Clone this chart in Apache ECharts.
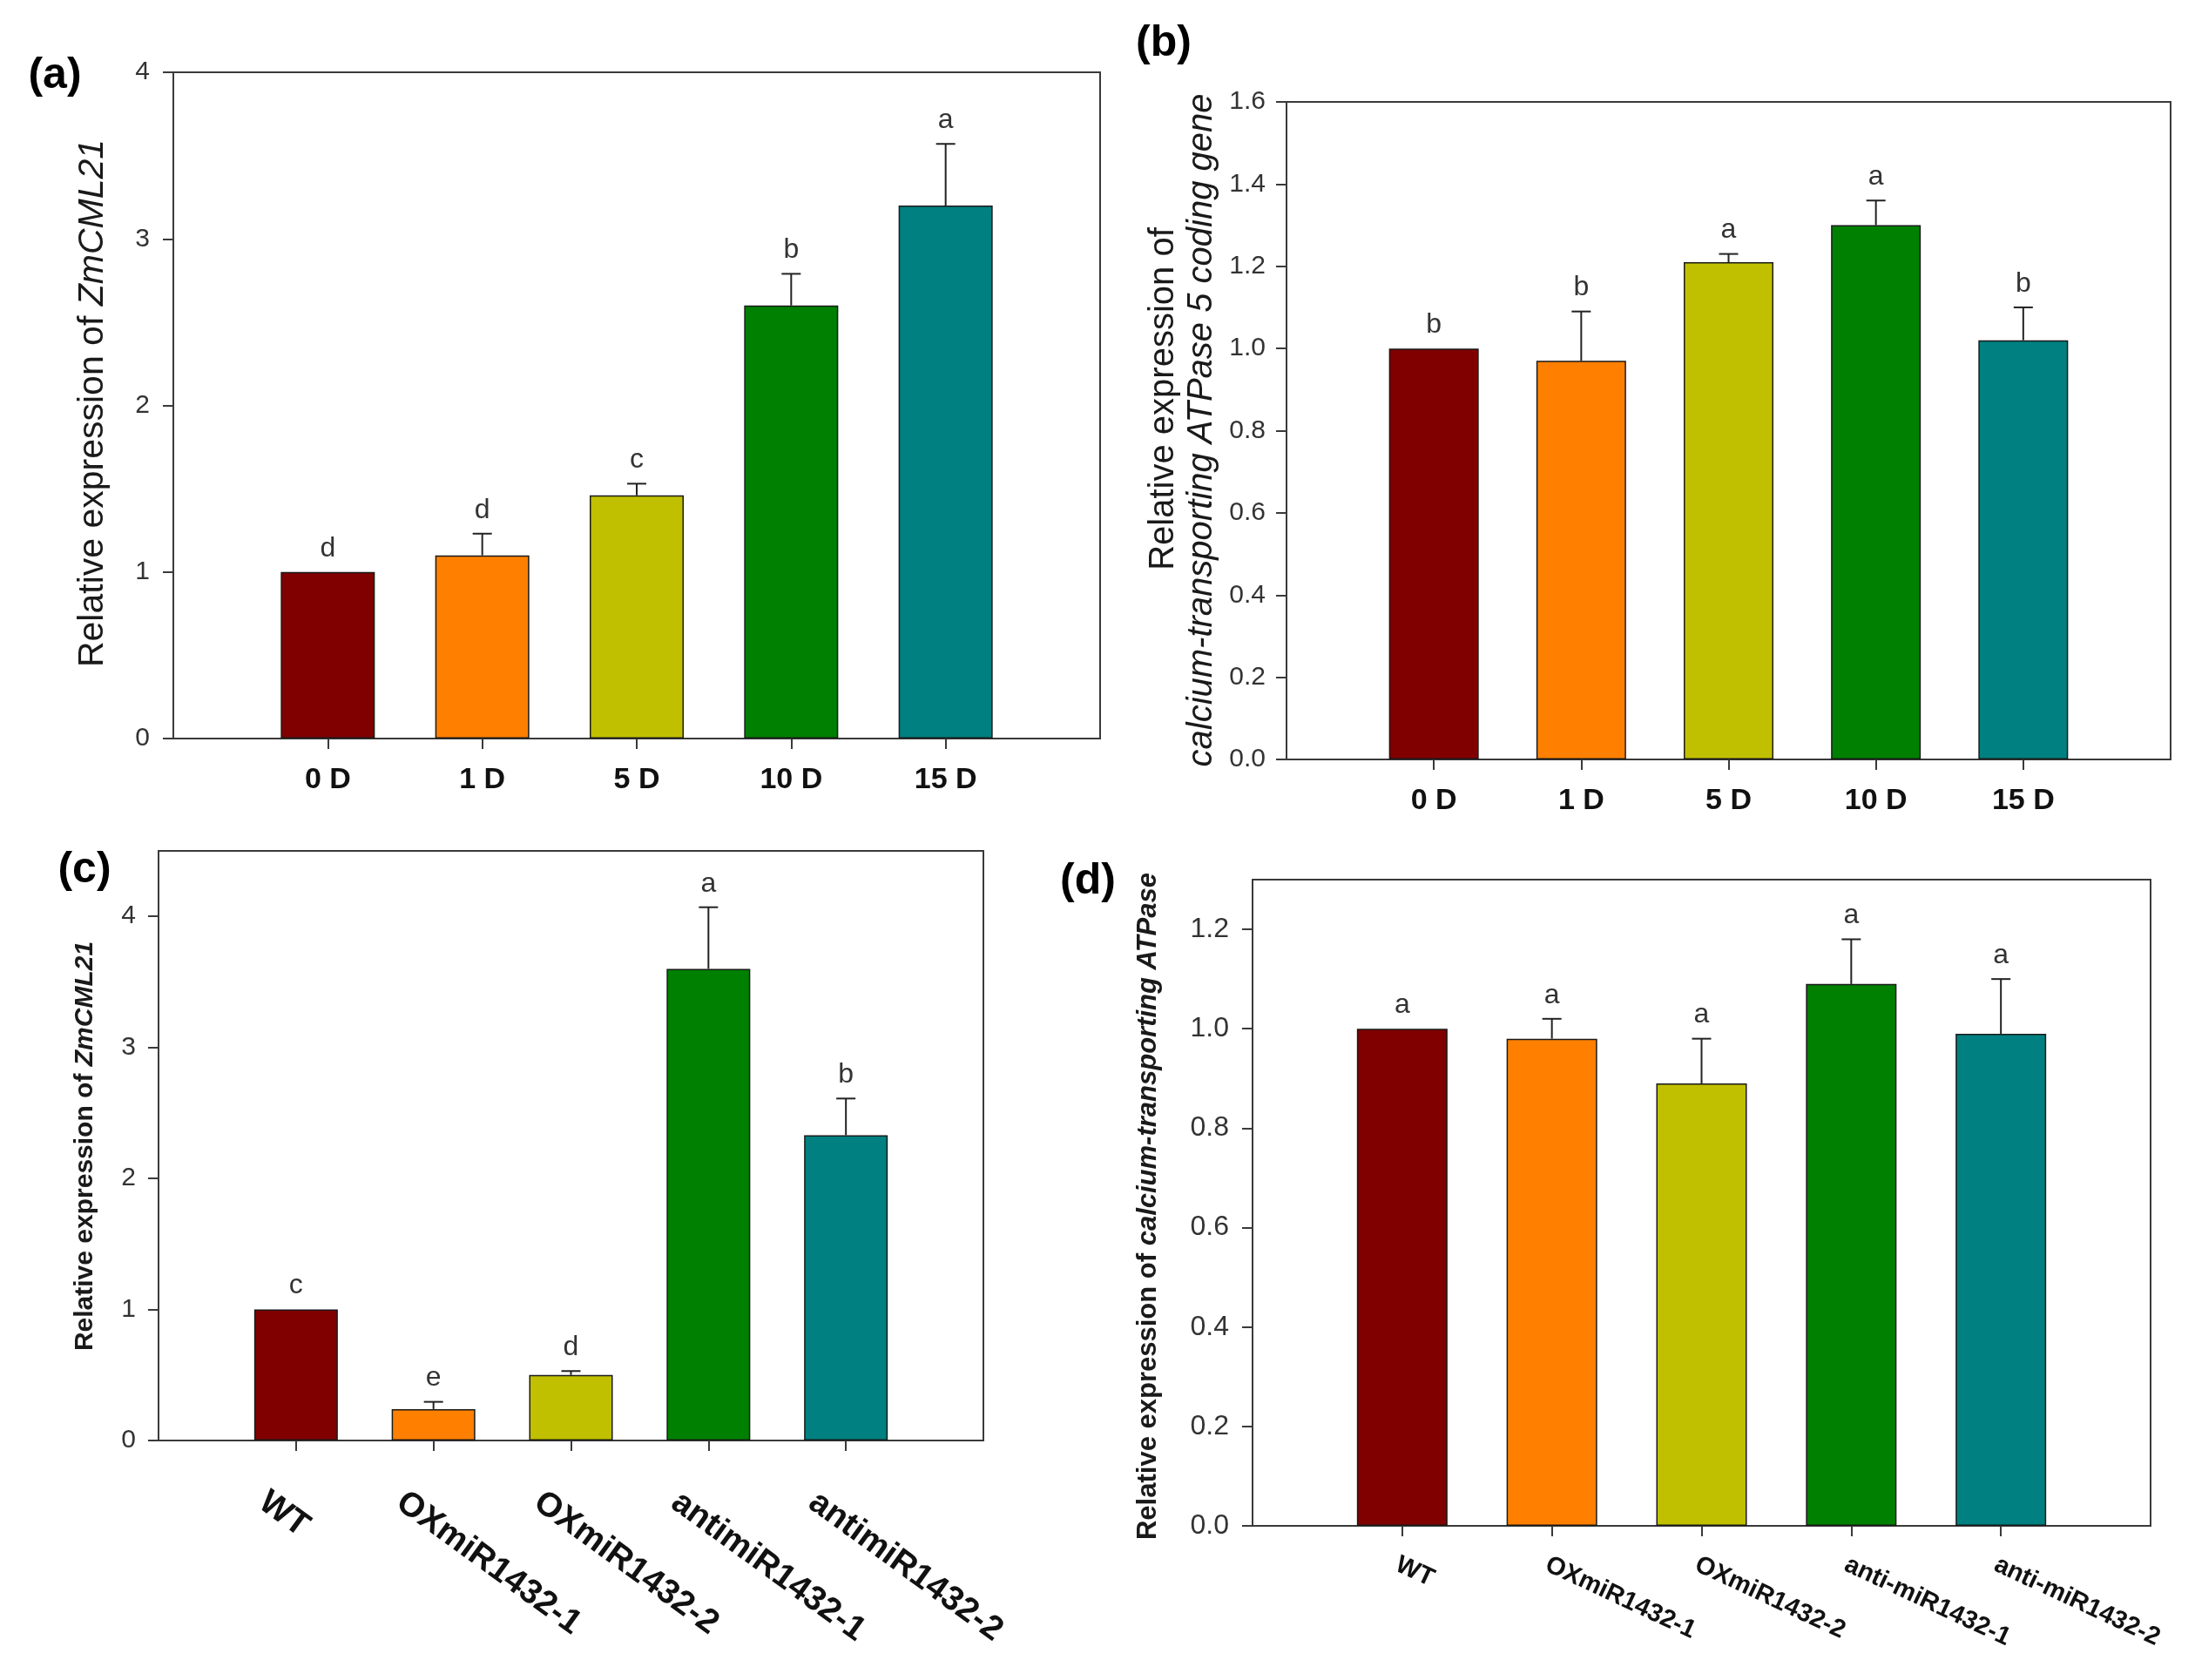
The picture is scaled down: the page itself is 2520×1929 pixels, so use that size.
<!DOCTYPE html>
<html>
<head>
<meta charset="utf-8">
<style>html,body{margin:0;padding:0;background:#fff;}#chart{width:2520px;height:1929px;}</style>
<script src="https://cdn.jsdelivr.net/npm/echarts@6/dist/echarts.min.js"></script>
</head>
<body>
<div id="chart"></div>
<script>
// panel (a) + (b): days after treatment
const daysCats = ["0 D", "1 D", "5 D", "10 D", "15 D"];
const meanA = [1.0, 1.10, 1.46, 2.60, 3.20];
const sdA = [0, 0.13, 0.07, 0.19, 0.37];
const lettersA = ["d", "d", "c", "b", "a"];
const ticksA = [0, 1, 2, 3, 4];

const meanB = [1.0, 0.97, 1.21, 1.30, 1.02];
const sdB = [0, 0.12, 0.02, 0.06, 0.08];
const lettersB = ["b", "b", "a", "a", "b"];
const ticksB = [0, 0.2, 0.4, 0.6, 0.8, 1.0, 1.2, 1.4, 1.6];

// panel (c) + (d): transgenic lines
const linesC = ["WT", "OXmiR1432-1", "OXmiR1432-2", "antimiR1432-1", "antimiR1432-2"];
const meanC = [1.0, 0.24, 0.50, 3.60, 2.33];
const sdC = [0, 0.055, 0.03, 0.47, 0.28];
const lettersC = ["c", "e", "d", "a", "b"];
const ticksC = [0, 1, 2, 3, 4];

const linesD = ["WT", "OXmiR1432-1", "OXmiR1432-2", "anti-miR1432-1", "anti-miR1432-2"];
const meanD = [1.0, 0.98, 0.89, 1.09, 0.99];
const sdD = [0, 0.04, 0.09, 0.09, 0.11];
const lettersD = ["a", "a", "a", "a", "a"];
const ticksD = [0, 0.2, 0.4, 0.6, 0.8, 1.0, 1.2];

const barColors = ["#800000", "#ff8000", "#c0c000", "#008000", "#008080"];
const catPos = [0, 1, 2, 3, 4];

const AXIS = "#3a3a3a";
const NARROW = "'Liberation Sans Narrow', 'Arial Narrow', 'Liberation Sans', sans-serif";
const SANS = "'Liberation Sans', Arial, sans-serif";

const grids = [
  { left: 199, top: 83, width: 1064, height: 765 },
  { left: 1477, top: 117, width: 1015, height: 755 },
  { left: 182, top: 977, width: 947, height: 677 },
  { left: 1438, top: 1010, width: 1031, height: 742 },
].map((g) => ({ ...g, show: true, borderColor: AXIS, borderWidth: 2, containLabel: false }));

function xAxisFor(idx, cats, label) {
  return {
    gridIndex: idx,
    type: "value",
    min: -1,
    max: 5,
    splitLine: { show: false },
    axisLine: { show: true, onZero: false, lineStyle: { color: AXIS, width: 2 } },
    axisTick: { show: true, customValues: catPos, length: 12, lineStyle: { color: AXIS, width: 2 } },
    axisLabel: Object.assign({ customValues: catPos, formatter: (v) => cats[Math.round(v)] }, label),
  };
}

function yAxisFor(idx, max, ticks, digits, label) {
  return {
    gridIndex: idx,
    type: "value",
    min: 0,
    max: max,
    splitLine: { show: false },
    axisLine: { show: true, onZero: false, lineStyle: { color: AXIS, width: 2 } },
    axisTick: { show: true, customValues: ticks, length: 12, lineStyle: { color: AXIS, width: 2 } },
    axisLabel: Object.assign({ customValues: ticks, formatter: (v) => v.toFixed(digits), color: "#333" }, label),
  };
}

function barSeries(idx, means, width) {
  return {
    type: "bar",
    xAxisIndex: idx,
    yAxisIndex: idx,
    barWidth: width,
    data: means.map((m, i) => ({ value: [catPos[i], m], itemStyle: { color: barColors[i] } })),
    itemStyle: { borderColor: "#1a1a1a", borderWidth: 1.5 },
    silent: true,
  };
}

function errSeries(idx, means, sds, letters, fontSize) {
  return {
    type: "custom",
    xAxisIndex: idx,
    yAxisIndex: idx,
    z: 5,
    silent: true,
    data: means.map((m, i) => [catPos[i], m, m + sds[i]]),
    renderItem: (params, api) => {
      const p0 = api.coord([api.value(0), api.value(1)]);
      const p1 = api.coord([api.value(0), api.value(2)]);
      const st = { stroke: "#222", lineWidth: 2 };
      const children = [];
      if (p1[1] < p0[1] - 0.5) {
        children.push({ type: "line", shape: { x1: p0[0], y1: p0[1], x2: p1[0], y2: p1[1] }, style: st });
        children.push({ type: "line", shape: { x1: p1[0] - 11, y1: p1[1], x2: p1[0] + 11, y2: p1[1] }, style: st });
      }
      children.push({
        type: "text",
        x: p1[0],
        y: p1[1] - 11,
        style: {
          text: letters[params.dataIndex],
          align: "center",
          verticalAlign: "bottom",
          fill: "#333",
          font: fontSize + "px " + NARROW,
        },
      });
      return { type: "group", children };
    },
  };
}

function vText(x, y, rich, text) {
  return {
    type: "text",
    x: x,
    y: y,
    rotation: Math.PI / 2,
    style: { text: text, rich: rich, align: "center", verticalAlign: "middle", fill: "#1a1a1a" },
  };
}

function panelLabel(x, y, t) {
  return {
    type: "text",
    x: x,
    y: y,
    style: { text: t, align: "center", verticalAlign: "middle", fill: "#000", font: "bold 50px " + SANS },
  };
}

const dayLabel = { fontFamily: NARROW, fontWeight: "bold", fontSize: 34, color: "#111", margin: 31 };

const option = {
  backgroundColor: "#fff",
  animation: false,
  grid: grids,
  xAxis: [
    xAxisFor(0, daysCats, dayLabel),
    xAxisFor(1, daysCats, dayLabel),
    xAxisFor(2, linesC, {
      fontFamily: SANS, fontWeight: "bold", fontSize: 39, color: "#111",
      rotate: -36, align: "left", verticalAlign: "top", padding: [46, 0, 0, 0], margin: 14,
    }),
    xAxisFor(3, linesD, {
      fontFamily: SANS, fontWeight: "bold", fontSize: 29, color: "#111",
      rotate: -25, align: "left", verticalAlign: "top", margin: 30,
    }),
  ],
  yAxis: [
    yAxisFor(0, 4, ticksA, 0, { fontFamily: NARROW, fontSize: 30, margin: 27 }),
    yAxisFor(1, 1.6, ticksB, 1, { fontFamily: NARROW, fontSize: 30, margin: 24 }),
    yAxisFor(2, 4.5, ticksC, 0, { fontFamily: NARROW, fontSize: 30, margin: 26 }),
    yAxisFor(3, 1.3, ticksD, 1, { fontFamily: SANS, fontSize: 32, margin: 27 }),
  ],
  series: [
    barSeries(0, meanA, 108),
    errSeries(0, meanA, sdA, lettersA, 32),
    barSeries(1, meanB, 103),
    errSeries(1, meanB, sdB, lettersB, 32),
    barSeries(2, meanC, 96),
    errSeries(2, meanC, sdC, lettersC, 32),
    barSeries(3, meanD, 104),
    errSeries(3, meanD, sdD, lettersD, 32),
  ],
  graphic: [
    panelLabel(63, 87, "(a)"),
    panelLabel(1336, 50, "(b)"),
    panelLabel(97, 999, "(c)"),
    panelLabel(1249, 1012, "(d)"),
    // y-axis titles; rotation makes them read bottom-to-top
    vText(107, 463, {
      r: { font: "41px " + SANS },
      i: { font: "italic 41px " + SANS },
    }, "{r|Relative expression of }{i|ZmCML21}"),
    vText(1336, 458, { r: { font: "40px " + SANS } }, "{r|Relative expression of}"),
    vText(1380, 494, { i: { font: "italic 40px " + SANS } }, "{i|calcium-transporting ATPase 5 coding gene}"),
    vText(98, 1316, {
      r: { font: "bold 30px " + SANS },
      i: { font: "italic bold 30px " + SANS },
    }, "{r|Relative expression of }{i|ZmCML21}"),
    vText(1318, 1385, {
      r: { font: "bold 31px " + SANS },
      i: { font: "italic bold 31px " + SANS },
    }, "{r|Relative expression of }{i|calcium-transporting ATPase}"),
  ],
};

const chart = echarts.init(document.getElementById("chart"), null, { renderer: "canvas", width: 2520, height: 1929 });
chart.setOption(option);
</script>
</body>
</html>
